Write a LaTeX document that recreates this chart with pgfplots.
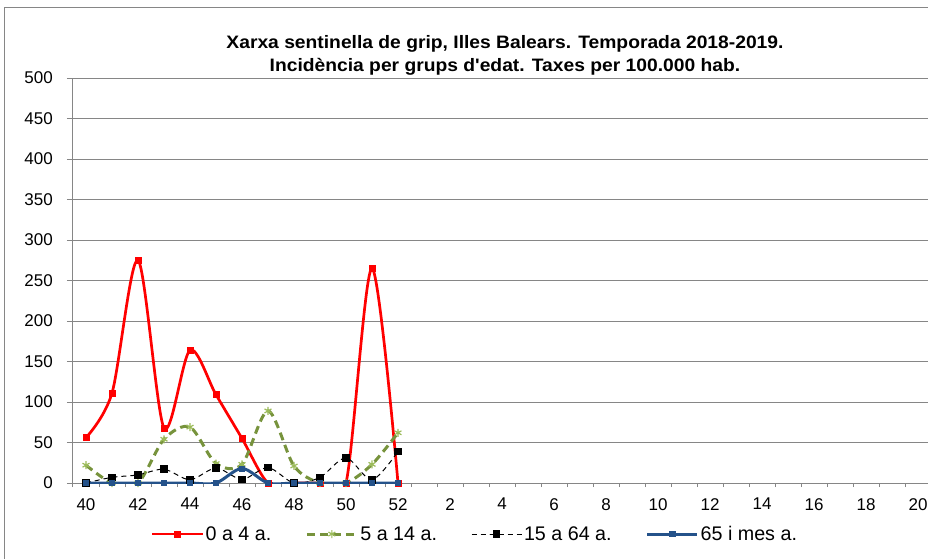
\documentclass[border=0pt]{standalone}
\usepackage{pgfplots}
\pgfplotsset{compat=1.18}
\usepackage{fontspec}
\setmainfont{Liberation Sans}
\definecolor{gridgray}{RGB}{134,134,134}
\definecolor{olive}{RGB}{119,147,60}
\definecolor{lgreen}{RGB}{155,187,89}
\definecolor{navy}{RGB}{36,82,138}
\begin{document}
\begin{tikzpicture}
\path[use as bounding box] (0pt,0pt) rectangle (928pt,558pt);
\draw[gridgray, line width=1pt] (4pt,-20pt) -- (4pt,550pt) -- (960pt,550pt);
\begin{axis}[
  at={(73pt,75pt)}, anchor=south west,
  scale only axis, width=858pt, height=405pt,
  xmin=-0.5, xmax=32.5, ymin=0, ymax=500,
  axis lines=left, axis line style={-, gridgray, line width=1pt},
  ytick={0,50,...,500},
  ymajorgrids, grid style={gridgray, line width=1pt},
  ytick style={gridgray, line width=1pt}, tick align=outside,
  major tick length=6pt, minor tick length=4pt,
  yticklabel style={anchor=east, inner sep=0pt, xshift=-14pt, font=\fontsize{17}{20}\selectfont},
  xtick={0,2,4,6,8,10,12,14,16,18,20,22,24,26,28,30,32},
  xticklabels={40,42,44,46,48,50,52,2,4,6,8,10,12,14,16,18,20},
  minor xtick={-0.5,0.5,...,32.5},
  major x tick style={draw=none},
  minor x tick style={gridgray, line width=1pt},
  xticklabel style={anchor=north, inner sep=0pt, yshift=-9pt, font=\fontsize{17}{20}\selectfont},
  /pgf/number format/assume math mode=true,
  title={Xarxa sentinella de grip, Illes Balears. Temporada 2018-2019.\\Incidència per grups d\textquotesingle edat. Taxes per 100.000 hab.},
  title style={at={(axis description cs:0.5035,1.091)}, anchor=north, align=center, inner sep=0pt, xscale=1.07, font=\bfseries\fontsize{18}{23.5}\selectfont},
  legend columns=4,
  legend style={at={(axis description cs:0.4685,-0.126)}, anchor=center, draw=none, fill=none,
    font=\fontsize{19.7}{22}\selectfont, /tikz/every even column/.append style={column sep=32pt}},
  legend image code/.code={\draw[mark repeat=2,mark phase=2,#1] plot coordinates {(0pt,0pt) (25pt,0pt) (50pt,0pt)};},
]
\addplot[red, line width=2.7pt, smooth, tension=0.5, mark=square*, mark size=3pt, mark options={solid, fill=red, line width=0.5pt}]
  table[row sep=\\] {x y\\ 0 56\\ 1 111\\ 2 275\\ 3 68\\ 4 164\\ 5 109\\ 6 55\\ 7 0\\ 8 0\\ 9 0\\ 10 0\\ 11 265\\ 12 0\\};
\addlegendentry{0 a 4 a.}
\addplot[olive, line width=3pt, dash pattern=on 8pt off 5pt, smooth, tension=0.5, mark=asterisk, mark size=4pt, mark options={solid, lgreen, line width=1.2pt}]
  table[row sep=\\] {x y\\ 0 22\\ 1 0\\ 2 0\\ 3 54\\ 4 69\\ 5 24\\ 6 23\\ 7 89\\ 8 21\\ 9 0\\ 10 0\\ 11 23\\ 12 62\\};
\addlegendentry{5 a 14 a.}
\addplot[black, line width=1pt, dash pattern=on 5pt off 4pt, smooth, tension=0.5, mark=square*, mark size=3.3pt, mark options={solid, fill=black}]
  table[row sep=\\] {x y\\ 0 0\\ 1 7\\ 2 10\\ 3 17\\ 4 4\\ 5 18.5\\ 6 4.5\\ 7 19\\ 8 0\\ 9 7\\ 10 31\\ 11 4\\ 12 39\\};
\addlegendentry{15 a 64 a.}
\addplot[navy, line width=3pt, smooth, tension=0.5, mark=square*, mark size=2.6pt, mark options={solid, fill=navy, line width=0.5pt}]
  table[row sep=\\] {x y\\ 0 0\\ 1 0\\ 2 0\\ 3 0\\ 4 0\\ 5 0\\ 6 18\\ 7 0\\ 8 0\\ 9 0\\ 10 0\\ 11 0\\ 12 0\\};
\addlegendentry{65 i mes a.}
\end{axis}
\end{tikzpicture}
\end{document}
